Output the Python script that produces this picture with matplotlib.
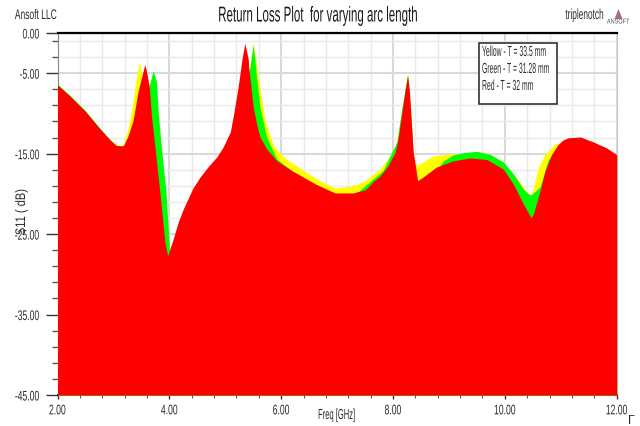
import numpy as np
import matplotlib
matplotlib.use('Agg')
import matplotlib.pyplot as plt
import matplotlib.patheffects as pe
from matplotlib.patches import Polygon, Rectangle
from matplotlib.transforms import Affine2D

# --- HFSS style return loss plot ---

plt.rcParams['font.family'] = ['Liberation Sans', 'DejaVu Sans']

red_freq = [2.00, 2.22, 2.49, 2.76, 2.94, 3.05, 3.15, 3.18, 3.26, 3.35, 3.44, 3.56, 3.58, 3.64, 3.68, 3.74,
            3.83, 3.92, 3.97, 4.07, 4.16, 4.25, 4.42, 4.55, 4.69, 4.85, 4.96, 5.09, 5.15, 5.23, 5.30, 5.35, 5.41,
            5.42, 5.50, 5.56, 5.62, 5.74, 5.92, 6.19, 6.61, 6.96, 7.29, 7.50, 7.64, 7.77, 7.91, 8.04, 8.09, 8.16, 8.22, 8.26, 8.29,
            8.32, 8.36, 8.44, 8.54, 8.78, 9.07, 9.38, 9.68, 9.97, 10.15, 10.33, 10.47, 10.51, 10.63,
            10.72, 10.84, 10.95, 11.04, 11.13, 11.35, 11.58, 11.82, 12.00]
red_db = [-6.46, -7.83, -9.69, -11.93, -13.29, -13.98, -14.04, -14.0, -12.8, -10.9, -7.3, -3.94, -4.4, -6.55, -10.27, -14.0,
          -19.75, -25.96, -27.7, -25.59, -23.48, -21.86, -19.3, -17.9, -16.65, -15.4, -14.2, -12.3, -10.06, -6.71, -3.23, -1.28, -3.23,
          -4.22, -9.19, -11.3, -12.92, -14.4, -15.86, -17.1, -18.76, -19.88, -19.88, -19.5, -18.5, -17.76, -16.5, -14.78, -13.17, -9.81, -6.96, -5.34, -6.96,
          -10.31, -14.78, -18.35, -17.89, -16.65, -15.9, -15.53, -15.74, -16.9, -18.76, -21.24, -22.98, -22.48, -19.59,
          -17.11, -15.03, -13.88, -13.3, -13.04, -12.92, -13.54, -14.29, -15.12]

green_freq = [2.00, 2.22, 2.49, 2.76, 2.94, 3.05, 3.15, 3.24, 3.40, 3.55, 3.64, 3.71, 3.77, 3.80, 3.86, 3.94,
              3.99, 4.01, 4.20, 5.00, 5.20, 5.35, 5.44, 5.50, 5.56, 5.62, 5.74, 5.92, 6.20, 6.60, 7.00,
              7.29, 7.38, 7.82, 8.07, 8.15, 8.26, 8.31, 8.36, 8.44, 8.54, 8.78, 8.84, 8.90, 9.07, 9.25,
              9.50, 9.74, 9.97, 10.15, 10.33, 10.42, 10.47, 10.63, 10.77, 10.95, 11.13, 11.35, 11.58, 11.82, 12.00]
green_db = [-6.36, -7.72, -9.58, -11.85, -13.25, -13.98, -14.04, -13.7, -13.0, -11.5, -6.55, -4.68, -6.1, -9.81, -14.41, -19.75,
            -25.6, -27.6, -23.5, -14.0, -11.0, -8.0, -4.22, -1.45, -5.47, -9.19, -12.92, -15.65, -17.2, -18.9, -20.0,
            -19.95, -19.7, -17.1, -13.54, -9.7, -5.09, -9.4, -15.0, -18.5, -18.0, -16.7, -16.48, -15.9, -15.16, -14.9,
            -14.7, -15.1, -16.02, -17.5, -19.4, -20.0, -20.12, -19.13, -15.86, -14.0, -13.1, -13.0, -13.6, -14.35, -15.2]

yellow_freq = [2.00, 2.49, 2.94, 3.15, 3.18, 3.26, 3.33, 3.40, 3.46, 3.49, 3.51, 3.55, 3.60, 3.75, 3.95, 4.10, 4.50,
               5.00, 5.30, 5.35, 5.45, 5.50, 5.59, 5.71, 5.86, 6.04, 6.40, 6.73, 6.96, 7.17, 7.38, 7.50,
               7.77, 8.04, 8.16, 8.26, 8.32, 8.36, 8.43, 8.54, 8.72, 9.04, 9.20, 9.50, 9.74, 9.97, 10.21, 10.40,
               10.48, 10.60, 10.72, 10.90, 10.95, 11.13, 11.35, 11.58, 11.82, 12.00]
yellow_db = [-6.5, -9.75, -13.35, -14.1, -13.79, -11.9, -9.44, -6.1, -3.52, -4.47, -5.71, -8.0, -12.0, -18.0, -27.0, -26.0, -19.0,
             -14.0, -9.5, -9.0, -4.5, -1.16, -5.47, -10.89, -14.0, -15.4, -17.1, -18.5, -19.25, -19.13, -18.76, -18.35,
             -16.89, -14.4, -9.7, -5.2, -9.5, -15.28, -16.5, -16.0, -15.28, -15.0, -15.03, -14.9, -15.2, -16.2, -18.0, -19.8,
             -20.09, -16.65, -15.03, -13.79, -13.7, -13.1, -13.0, -13.6, -14.35, -15.2]

xtick_vals = [2, 4, 6, 8, 10, 12]
xtick_labels = ['2.00', '4.00', '6.00', '8.00', '10.00', '12.00']
ytick_vals = [0, -5, -15, -25, -35, -45]
ytick_labels = ['0.00', '-5.00', '-15.00', '-25.00', '-35.00', '-45.00']
legend_lines = ['Yellow - T = 33.5 mm', 'Green - T = 31.28 mm', 'Red - T = 32 mm']

TEXT = '#2b2b2b'


class Squeeze(pe.AbstractPathEffect):
    """Narrows the text along its baseline, the reference's text is condensed."""

    def __init__(self, sx, align=0.5):
        super().__init__()
        self.sx = sx
        self.align = align

    def draw_path(self, renderer, gc, tpath, affine, rgbFace=None):
        width = tpath.get_extents().x1
        shift = width * (1 - self.sx) * self.align
        squeezed = Affine2D().scale(self.sx, 1).translate(shift, 0) + affine
        renderer.draw_path(gc, tpath, squeezed, rgbFace)


fig = plt.figure(figsize=(6.4, 4.27), dpi=100)
ax = fig.add_axes([57.5 / 640, 1 - 396 / 427, 559.2 / 640, 362 / 427])

ax.fill_between(yellow_freq, yellow_db, -45, color='#ffff00', linewidth=0, zorder=3)
ax.fill_between(green_freq, green_db, -45, color='#00ff00', linewidth=0, zorder=4)
ax.fill_between(red_freq, red_db, -45, color='#ff0000', linewidth=0, zorder=5)

ax.set_xlim(2, 12)
ax.set_ylim(-45, 0)

ax.set_xticks(xtick_vals)
ax.set_xticklabels(xtick_labels, fontsize=10, color=TEXT)
ax.set_xticks(np.arange(2, 12.01, 0.4), minor=True)
ax.set_yticks(ytick_vals)
ax.set_yticklabels(ytick_labels, fontsize=10, color=TEXT)
ax.set_yticks(np.arange(-45, 0, 2), minor=True)

for lab in ax.get_xticklabels():
    lab.set_path_effects([Squeeze(0.62, 0.5)])
for lab in ax.get_yticklabels():
    lab.set_path_effects([Squeeze(0.62, 1.0)])

ax.grid(True, which='minor', color='#eaeaea', linewidth=1.0, zorder=1)
ax.grid(True, which='major', color='#d9d9d9', linewidth=1.5, zorder=2)
ax.set_axisbelow(True)

ax.tick_params(axis='y', which='major', length=9, width=1.0, color='#333333', pad=4)
ax.tick_params(axis='y', which='minor', length=4, width=1.0, color='#555555')
ax.tick_params(axis='x', which='major', length=3, width=1.0, color='#333333', pad=3)
ax.tick_params(axis='x', which='minor', length=2, width=0.8, color='#555555')

ax.spines['top'].set_linewidth(1.6)
ax.spines['top'].set_color('black')
ax.spines['bottom'].set_linewidth(1.2)
ax.spines['bottom'].set_color('black')
ax.spines['left'].set_linewidth(0.8)
ax.spines['left'].set_color('#888888')
ax.spines['right'].set_linewidth(0.8)
ax.spines['right'].set_color('#c8c8c8')

# header texts
fig.text(318 / 640, 1 - 17 / 427, 'Return Loss Plot  for varying arc length', ha='center', va='center',
         fontsize=15.5, color='#1a1a1a', path_effects=[Squeeze(0.536)])
fig.text(36 / 640, 1 - 16 / 427, 'Ansoft LLC', ha='center', va='center', fontsize=10, color=TEXT,
         path_effects=[Squeeze(0.61)])
fig.text(585 / 640, 1 - 16 / 427, 'triplenotch', ha='center', va='center', fontsize=10.5, color=TEXT,
         path_effects=[Squeeze(0.57)])
fig.text(337 / 640, 1 - 416 / 427, 'Freq [GHz]', ha='center', va='center', fontsize=10.5, color=TEXT,
         path_effects=[Squeeze(0.52)])
fig.text(21 / 640, 1 - 213 / 427, 'S11 ( dB)', rotation=90, ha='center', va='center', fontsize=10, color=TEXT,
         path_effects=[Squeeze(0.8)])

# ansoft logo and the corner mark
fig.add_artist(Polygon([[618.5 / 640, 1 - 10 / 427], [614.5 / 640, 1 - 20 / 427], [622.5 / 640, 1 - 20 / 427]],
                       closed=True, transform=fig.transFigure, facecolor='#a87070', edgecolor='none'))
fig.text(618.5 / 640, 1 - 23 / 427, 'ANSOFT', ha='center', va='center', fontsize=5, color='#555555',
         path_effects=[Squeeze(0.8)])
fig.text(628 / 640, 1 - 421 / 427, 'Γ', ha='left', va='center', fontsize=9, color=TEXT)

# note box
box = Rectangle((479.3 / 640, 1 - 105 / 427), 77.4 / 640, 61 / 427, transform=fig.transFigure,
                facecolor='white', edgecolor='#222222', linewidth=1.1, zorder=10)
fig.add_artist(box)
for line, y_px in zip(legend_lines, [53, 70, 87]):
    txt = fig.text(482 / 640, 1 - y_px / 427, line, ha='left', va='center', fontsize=10.5, color=TEXT,
                   path_effects=[Squeeze(0.47, 0.0)])
    txt.set_zorder(11)

fig.savefig('out.png', dpi=100)
